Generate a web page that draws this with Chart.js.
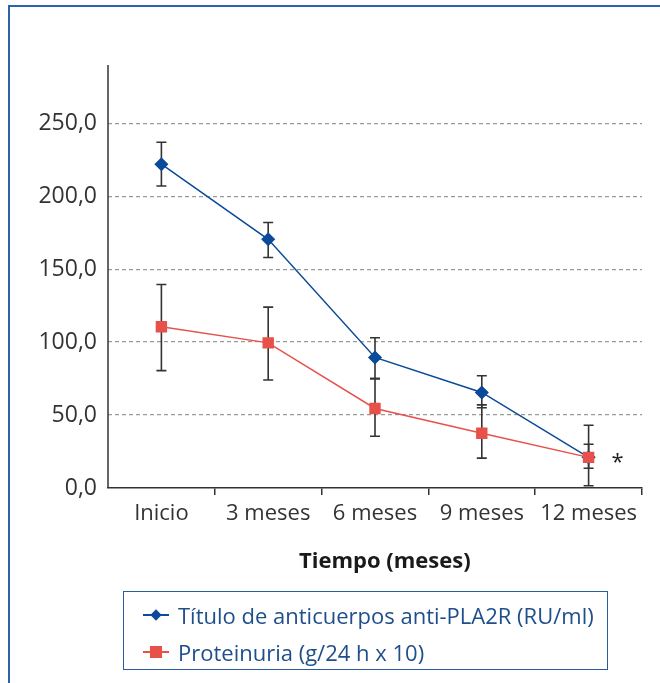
<!DOCTYPE html>
<html lang="es">
<head>
    <meta charset="utf-8">
    <script src="https://cdn.jsdelivr.net/npm/chart.js@4.4.1/dist/chart.umd.min.js"></script>
    <title>Anticuerpos anti-PLA2R y proteinuria</title>
    <style>
    html, body {
        margin: 0;
        padding: 0;
        background: #fff;
        overflow: hidden;
    }
    #wrap {
        position: relative;
        width: 660px;
        height: 683px;
        font-family: "Open Sans", sans-serif;
    }
    #frame {
        position: absolute;
        left: 8px;
        top: 5px;
        width: 720px;
        height: 740px;
        border: 2px solid #2c63ad;
    }
    #chart {
        position: absolute;
        left: 0;
        top: 0;
    }
    #xtitle {
        position: absolute;
        left: 299px;
        top: 544px;
        font-weight: bold;
        font-size: 22px;
        color: #1a1a1a;
    }
    #legend {
        position: absolute;
        left: 123px;
        top: 591px;
        width: 483px;
        height: 77px;
        border: 1.5px solid #2a5b9c;
    }
    .item {
        position: absolute;
        left: 19px;
        height: 30px;
        line-height: 30px;
        font-size: 22px;
        color: #1f4e8c;
        white-space: nowrap;
    }
    .mk {
        display: inline-block;
        position: relative;
        width: 26px;
        height: 30px;
        vertical-align: top;
        margin-right: 9px;
    }
    .mk .ln {
        position: absolute;
        left: 0;
        right: 0;
        top: 14px;
        height: 2px;
    }
    .mk .pt {
        position: absolute;
    }
    </style>
</head>
<body>
    <div id="wrap">
        <div id="frame"></div>
        <canvas id="chart" width="660" height="683"></canvas>
        <div id="xtitle">Tiempo (meses)</div>
        <div id="legend"></div>
    </div>

    <script>
        var categories = ["Inicio", "3 meses", "6 meses", "9 meses", "12 meses"];
        var yTicks = [0, 50, 100, 150, 200, 250];

        var tituloLabel = "Título de anticuerpos anti-PLA2R (RU/ml)";
        var titulo = [222, 170.5, 89.5, 65.5, 21];
        var tituloHigh = [237, 182, 103, 77, 30];
        var tituloLow = [207, 158, 75, 55, 13.5];

        var protLabel = "Proteinuria (g/24 h x 10)";
        var proteinuria = [110.5, 99.5, 54.5, 37.5, 21];
        var protHigh = [139.5, 124, 75, 57, 43];
        var protLow = [80.5, 74, 35.5, 20.5, 1.5];

        var azul = "#0b4a98";
        var rojo = "#e8504a";

        // barras de error, eje y continuo y asterisco
        var errorBars = {
            id: "errorBars",
            beforeDatasetsDraw: function(chart) {
                var ctx = chart.ctx;
                var x = chart.scales.x, y = chart.scales.y;
                var a = chart.chartArea;
                ctx.save();
                ctx.strokeStyle = "#333";
                ctx.lineWidth = 1.5;
                ctx.beginPath();
                ctx.moveTo(a.left, a.top); ctx.lineTo(a.left, a.bottom);
                ctx.stroke();
                ctx.lineWidth = 1.6;
                [[tituloHigh, tituloLow], [protHigh, protLow]].forEach(function(s) {
                    for (var i = 0; i < categories.length; i++) {
                        var px = x.getPixelForValue(i);
                        var top = y.getPixelForValue(s[0][i]);
                        var bot = y.getPixelForValue(s[1][i]);
                        ctx.beginPath();
                        ctx.moveTo(px, top); ctx.lineTo(px, bot);
                        ctx.moveTo(px - 5, top); ctx.lineTo(px + 5, top);
                        ctx.moveTo(px - 5, bot); ctx.lineTo(px + 5, bot);
                        ctx.stroke();
                    }
                });
                ctx.restore();
            },
            afterDraw: function(chart) {
                var ctx = chart.ctx;
                var last = categories.length - 1;
                var px = chart.scales.x.getPixelForValue(last) + 29;
                var py = chart.scales.y.getPixelForValue(proteinuria[last]);
                ctx.save();
                ctx.fillStyle = "#222";
                ctx.font = "22px 'Open Sans'";
                ctx.textAlign = "center";
                ctx.textBaseline = "middle";
                ctx.fillText("*", px, py + 5);
                ctx.restore();
            }
        };

        var ctx = document.getElementById("chart").getContext("2d");
        var myChart = new Chart(ctx, {
            type: "line",
            data: {
                labels: categories,
                datasets: [{
                    label: tituloLabel,
                    data: titulo,
                    borderColor: azul,
                    backgroundColor: azul,
                    borderWidth: 1.5,
                    pointStyle: "rectRot",
                    pointRadius: 6,
                    order: 1
                }, {
                    label: protLabel,
                    data: proteinuria,
                    borderColor: rojo,
                    backgroundColor: rojo,
                    borderWidth: 1.5,
                    pointStyle: "rect",
                    pointRadius: 7,
                    order: 0
                }]
            },
            options: {
                responsive: false,
                animation: false,
                layout: { padding: { top: 65, right: 18, bottom: 0, left: 0 } },
                plugins: {
                    legend: { display: false },
                    tooltip: { enabled: false }
                },
                scales: {
                    x: {
                        offset: true,
                        afterFit: function(s) { s.height = 195; },
                        border: { color: "#333", width: 1.5 },
                        grid: {
                            offset: true,
                            drawOnChartArea: false,
                            tickLength: 7,
                            lineWidth: 1.5,
                            color: function(c) { return c.index === 0 ? "rgba(0,0,0,0)" : "#333"; }
                        },
                        ticks: {
                            color: "#333",
                            padding: 6,
                            font: { family: "Open Sans", size: 22 }
                        }
                    },
                    y: {
                        min: 0,
                        max: 290,
                        afterFit: function(s) { s.width = 108; },
                        afterBuildTicks: function(s) {
                            s.ticks = yTicks.map(function(v) { return { value: v }; });
                        },
                        border: { display: false, dash: [4, 3] },
                        grid: {
                            drawTicks: false,
                            color: function(c) { return c.tick && c.tick.value === 0 ? "rgba(0,0,0,0)" : "#9a9a9a"; },
                            lineWidth: 1.3
                        },
                        ticks: {
                            color: "#333",
                            padding: 11,
                            font: { family: "Open Sans", size: 23 },
                            callback: function(v) { return v.toFixed(1).replace(".", ","); }
                        }
                    }
                }
            },
            plugins: [errorBars]
        });

        // leyenda en HTML
        var legendItems = [
            { label: tituloLabel, color: azul, style: "rectRot" },
            { label: protLabel, color: rojo, style: "rect" }
        ];
        var lg = document.getElementById("legend");
        legendItems.forEach(function(it, i) {
            var d = document.createElement("div");
            d.className = "item";
            d.style.top = (8 + i * 37) + "px";
            var mk = document.createElement("span");
            mk.className = "mk";
            var ln = document.createElement("span");
            ln.className = "ln";
            ln.style.background = it.color;
            var pt = document.createElement("span");
            pt.className = "pt";
            pt.style.background = it.color;
            if (it.style === "rectRot") {
                pt.style.width = "8px"; pt.style.height = "8px";
                pt.style.left = "9px"; pt.style.top = "11px";
                pt.style.transform = "rotate(45deg)";
            } else {
                pt.style.width = "12px"; pt.style.height = "12px";
                pt.style.left = "7px"; pt.style.top = "9px";
            }
            mk.appendChild(ln);
            mk.appendChild(pt);
            d.appendChild(mk);
            d.appendChild(document.createTextNode(it.label));
            lg.appendChild(d);
        });
    </script>
</body>
</html>
